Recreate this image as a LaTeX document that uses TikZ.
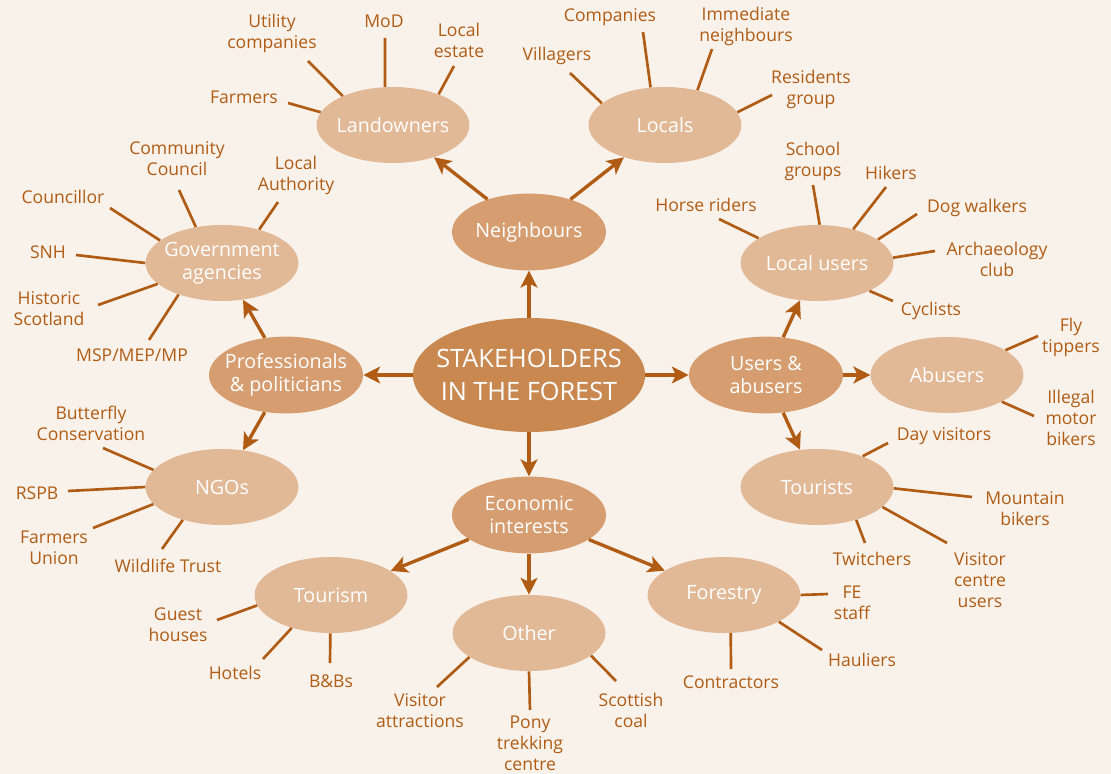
\documentclass[tikz,border=0pt]{standalone}
\usepackage{fontspec}
\setmainfont{Open Sans}
\usetikzlibrary{shapes.geometric,arrows.meta,positioning}
\definecolor{paper}{RGB}{249,242,235}
\definecolor{hubbrown}{RGB}{200,136,80}
\definecolor{midbrown}{RGB}{214,158,112}
\definecolor{leafbrown}{RGB}{226,185,151}
\definecolor{inkbrown}{RGB}{176,92,20}

\begin{document}
\begin{tikzpicture}[x=0.025cm, y=-0.025cm,
    hub/.style={ellipse, fill=hubbrown, minimum width=5.8cm, minimum height=2.85cm, inner sep=0pt},
    group/.style={ellipse, fill=midbrown, minimum width=3.85cm, minimum height=1.92cm, inner sep=0pt},
    leaf/.style={ellipse, fill=leafbrown, minimum width=3.82cm, minimum height=1.9cm, inner sep=0pt},
    etext/.style={text=white, align=center, inner sep=0pt, font=\fontsize{14}{16}\selectfont},
    item/.style={text=inkbrown, align=center, inner sep=0pt, font=\fontsize{12.5}{15}\selectfont},
    spoke/.style={draw=inkbrown, line width=1.9pt},
    arrow/.style={draw=inkbrown, line width=2.4pt, -{Stealth[length=12pt, width=12pt, inset=3pt]}}
]

% Page
\fill[paper] (0,0) rectangle (1111,774);
\useasboundingbox (0,0) rectangle (1111,774);

% Hub
\node[hub] (hub) at (529,375) {};
\node[etext, font=\fontsize{18}{23}\selectfont] (hub-text) at (hub) {STAKEHOLDERS\\IN THE FOREST};

% Groups
\node[group] (nei) at (529,232) {};
\node[group] (pro) at (286,375) {};
\node[group] (use) at (766,375) {};
\node[group] (eco) at (529,515) {};
\node[etext] (nei-text) at (nei) {Neighbours};
\node[etext] (pro-text) at (pro) {Professionals\\\& politicians};
\node[etext] (use-text) at (use) {Users \&\\abusers};
\node[etext] (eco-text) at (eco) {Economic\\interests};

% Leaves
\node[leaf] (lan) at (393,125) {};
\node[leaf] (loc) at (665,125) {};
\node[leaf] (gov) at (222,263) {};
\node[leaf] (ngo) at (222,487) {};
\node[leaf] (lus) at (817,263) {};
\node[leaf] (abu) at (947,375) {};
\node[leaf] (tou) at (817,487) {};
\node[leaf] (tsm) at (331,595) {};
\node[leaf] (oth) at (529,633) {};
\node[leaf] (fst) at (724,595) {};
\node[etext] (lan-text) at (lan) {Landowners};
\node[etext] (loc-text) at (loc) {Locals};
\node[etext] (gov-text) at (gov) {Government\\agencies};
\node[etext] (ngo-text) at (ngo) {NGOs};
\node[etext] (lus-text) at (lus) {Local users};
\node[etext] (abu-text) at (abu) {Abusers};
\node[etext] (tou-text) at (tou) {Tourists};
\node[etext] (tsm-text) at (tsm) {Tourism};
\node[etext] (oth-text) at (oth) {Other};
\node[etext] (fst-text) at (fst) {Forestry};

% Arrows
\draw[arrow] (hub) -- (nei);
\draw[arrow] (hub) -- (pro);
\draw[arrow] (hub) -- (use);
\draw[arrow] (hub) -- (eco);
\draw[arrow] (nei) -- (lan);
\draw[arrow] (nei) -- (loc);
\draw[arrow] (pro) -- (gov);
\draw[arrow] (pro) -- (ngo);
\draw[arrow] (use) -- (lus);
\draw[arrow] (use) -- (abu);
\draw[arrow] (use) -- (tou);
\draw[arrow] (eco) -- (tsm);
\draw[arrow] (eco) -- (oth);
\draw[arrow] (eco) -- (fst);

% Landowners
\node[item] (farmers) at (244,97) {Farmers};
\node[item] (utility) at (272,33) {Utility\\companies};
\node[item] (mod) at (384,21) {MoD};
\node[item] (estate) at (459,40) {Local\\estate};
\coordinate (farmers-end) at (288,103); \draw[spoke] (farmers-end) -- (lan.170);
\coordinate (utility-end) at (308,61); \draw[spoke] (utility-end) -- (lan.150);
\coordinate (mod-end) at (385,38); \draw[spoke] (mod-end) -- (lan.102);
\coordinate (estate-end) at (454,66); \draw[spoke] (estate-end) -- (lan.34);

% Locals
\node[item] (villagers) at (557,56) {Villagers};
\node[item] (companies) at (610,17) {Companies};
\node[item] (immediate) at (746,26) {Immediate\\neighbours};
\node[item] (residents) at (811,89) {Residents\\group};
\coordinate (villagers-end) at (570,73); \draw[spoke] (villagers-end) -- (loc.161);
\coordinate (companies-end) at (643,32); \draw[spoke] (companies-end) -- (loc.111);
\coordinate (immediate-end) at (712,49); \draw[spoke] (immediate-end) -- (loc.47);
\coordinate (residents-end) at (772,95); \draw[spoke] (residents-end) -- (loc.10);

% Local users
\node[item] (horse) at (706,205) {Horse riders};
\node[item] (school) at (813,161) {School\\groups};
\node[item] (hikers) at (891,173) {Hikers};
\node[item] (dogs) at (977,208) {Dog walkers};
\node[item] (arch) at (997,259) {Archaeology\\club};
\node[item] (cyclists) at (931,311) {Cyclists};
\coordinate (horse-end) at (719,219); \draw[spoke] (horse-end) -- (lus.157);
\coordinate (school-end) at (813,185); \draw[spoke] (school-end) -- (lus.86);
\coordinate (hikers-end) at (886,187); \draw[spoke] (hikers-end) -- (lus.43);
\coordinate (dogs-end) at (917,214); \draw[spoke] (dogs-end) -- (lus.21);
\coordinate (arch-end) at (935,251); \draw[spoke] (arch-end) -- (lus.4);
\coordinate (cyclists-end) at (893,301); \draw[spoke] (cyclists-end) -- (lus.-28);

% Government agencies
\node[item] (councillor) at (63,197) {Councillor};
\node[item] (community) at (177,159) {Community\\Council};
\node[item] (authority) at (296,175) {Local\\Authority};
\node[item] (snh) at (48,252) {SNH};
\node[item] (historic) at (49,309) {Historic\\Scotland};
\node[item] (msp) at (132,355) {MSP/MEP/MP};
\coordinate (councillor-end) at (110,208); \draw[spoke] (councillor-end) -- (gov.160);
\coordinate (community-end) at (179,190); \draw[spoke] (community-end) -- (gov.126);
\coordinate (authority-end) at (278,202); \draw[spoke] (authority-end) -- (gov.42);
\coordinate (snh-end) at (76,255); \draw[spoke] (snh-end) -- (gov.180);
\coordinate (historic-end) at (98,305); \draw[spoke] (historic-end) -- (gov.198);
\coordinate (msp-end) at (149,340); \draw[spoke] (msp-end) -- (gov.216);

% NGOs
\node[item] (butterfly) at (91,423) {Butterfly\\Conservation};
\node[item] (rspb) at (37,493) {RSPB};
\node[item] (funion) at (54,548) {Farmers\\Union};
\node[item] (wildlife) at (168,566) {Wildlife Trust};
\coordinate (butterfly-end) at (103,448); \draw[spoke] (butterfly-end) -- (ngo.166);
\coordinate (rspb-end) at (68,491); \draw[spoke] (rspb-end) -- (ngo.180);
\coordinate (funion-end) at (93,528); \draw[spoke] (funion-end) -- (ngo.194);
\coordinate (wildlife-end) at (162,549); \draw[spoke] (wildlife-end) -- (ngo.220);

% Abusers
\node[item] (fly) at (1071,337) {Fly\\tippers};
\node[item] (bikers) at (1071,418) {Illegal\\motor\\bikers};
\coordinate (fly-end) at (1038,336); \draw[spoke] (fly-end) -- (abu.23);
\coordinate (bikers-end) at (1034,416); \draw[spoke] (bikers-end) -- (abu.-26);

% Tourists
\node[item] (day) at (944,436) {Day visitors};
\node[item] (mountain) at (1025,509) {Mountain\\bikers};
\node[item] (twitchers) at (872,559) {Twitchers};
\node[item] (vcentre) at (980,580) {Visitor\\centre\\users};
\coordinate (day-end) at (888,443); \draw[spoke] (day-end) -- (tou.34);
\coordinate (mountain-end) at (972,497); \draw[spoke] (mountain-end) -- (tou.-1);
\coordinate (twitchers-end) at (865,543); \draw[spoke] (twitchers-end) -- (tou.-40);
\coordinate (vcentre-end) at (947,543); \draw[spoke] (vcentre-end) -- (tou.-17);

% Forestry
\node[item] (fe) at (852,603) {FE\\staff};
\node[item] (hauliers) at (862,660) {Hauliers};
\node[item] (contractors) at (731,682) {Contractors};
\coordinate (fe-end) at (828,594); \draw[spoke] (fe-end) -- (fst.0);
\coordinate (hauliers-end) at (822,650); \draw[spoke] (hauliers-end) -- (fst.-26);
\coordinate (contractors-end) at (731,669); \draw[spoke] (contractors-end) -- (fst.-80);

% Tourism
\node[item] (guest) at (178,625) {Guest\\houses};
\node[item] (hotels) at (235,673) {Hotels};
\node[item] (bnb) at (331,681) {B\&Bs};
\coordinate (guest-end) at (217,620); \draw[spoke] (guest-end) -- (tsm.188);
\coordinate (hotels-end) at (263,659); \draw[spoke] (hotels-end) -- (tsm.220);
\coordinate (bnb-end) at (330,663); \draw[spoke] (bnb-end) -- (tsm.269);

% Other
\node[item] (vattr) at (420,711) {Visitor\\attractions};
\node[item] (pony) at (530,743) {Pony\\trekking\\centre};
\node[item] (coal) at (631,710) {Scottish\\coal};
\coordinate (vattr-end) at (437,687); \draw[spoke] (vattr-end) -- (oth.202);
\coordinate (pony-end) at (530,710); \draw[spoke] (pony-end) -- (oth.270);
\coordinate (coal-end) at (616,681); \draw[spoke] (coal-end) -- (oth.340);

\end{tikzpicture}
\end{document}
